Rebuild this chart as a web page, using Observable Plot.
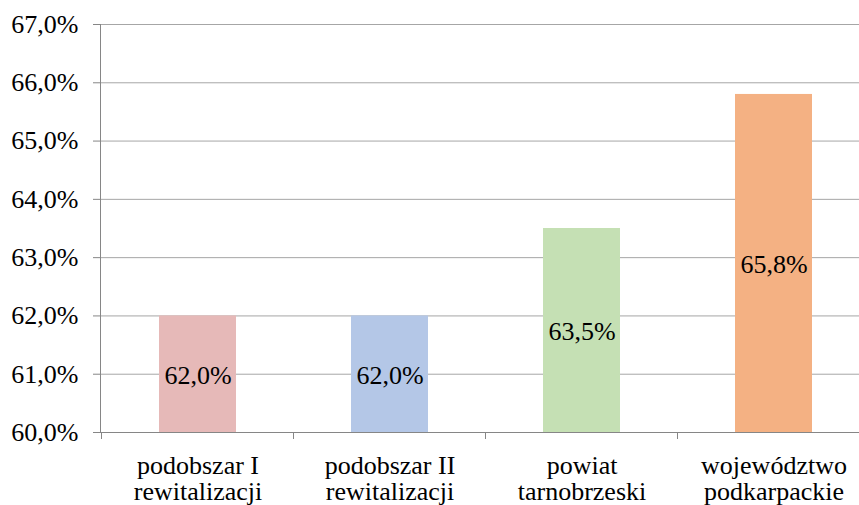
<!DOCTYPE html>
<html>
<head>
<meta charset="utf-8">
<script src="https://cdn.jsdelivr.net/npm/d3@7"></script>
<script src="https://cdn.jsdelivr.net/npm/@observablehq/plot@0.6"></script>
<style>
  html, body { margin: 0; padding: 0; background: #fff; }
  #chart svg { display: block; overflow: hidden; font-family: "Liberation Serif", "Tinos", "Times New Roman", "DejaVu Serif", serif; }
  #chart svg text { font-family: "Liberation Serif", "Tinos", "Times New Roman", "DejaVu Serif", serif; }
</style>
</head>
<body>
<div id="chart"></div>
<script>
const categories = ["podobszar I\nrewitalizacji", "podobszar II\nrewitalizacji", "powiat\ntarnobrzeski", "województwo\npodkarpackie"];
const values = [62.0, 62.0, 63.5, 65.8];
const colors = ["#e6b9b8", "#b4c7e7", "#c5e0b4", "#f4b183"];
const yTicks = [60, 61, 62, 63, 64, 65, 66, 67];

const data = categories.map((c, i) => ({category: c, value: values[i], color: colors[i]}));
const fmt = d => d.toFixed(1).replace(".", ",") + "%";
const font = "Liberation Serif, DejaVu Serif, serif";

const W = 859, H = 505;
const mLeft = 100, mTop = 24, yBottom = 432;

const chart = Plot.plot({
  width: W,
  height: H,
  marginLeft: mLeft,
  marginRight: 0,
  marginTop: mTop,
  marginBottom: H - yBottom,
  style: {background: "#fff", color: "#000"},
  x: {domain: categories, range: [mLeft, 871], paddingInner: 0.6, paddingOuter: 0.3, axis: null, label: null},
  y: {domain: [60, 67], range: [yBottom, mTop], axis: null, label: null},
  marks: [
    Plot.ruleY(yTicks, {stroke: "#a6a6a6", strokeWidth: 1}),
    Plot.barY(data, {x: "category", y1: () => 60, y2: "value", fill: "color"}),
    Plot.text(data, {x: "category", y: d => (60 + d.value) / 2, text: d => fmt(d.value), fontSize: 26, fontFamily: font, fill: "#000", dy: 1}),
    Plot.axisY(yTicks, {tickFormat: fmt, tickSize: 7, tickPadding: 15, fontSize: 26, fontFamily: font, stroke: "#868686", fill: "#000", anchor: "left", label: null}),
    Plot.axisX(categories, {tickSize: 0, tickPadding: 23, fontSize: 26, fontFamily: font, lineHeight: 1.0, fill: "#000", anchor: "bottom", label: null}),
    Plot.frame({anchor: "left", stroke: "#868686"}),
    Plot.ruleY([60], {stroke: "#868686"})
  ]
});

// category boundary ticks below the axis, from the band scale
const xs = chart.scale("x");
const step = xs.step, bw = xs.bandwidth;
const gap = (step - bw) / 2;
const bounds = categories.map(c => xs.apply(c) - gap);
bounds.push(xs.apply(categories[categories.length - 1]) + bw + gap);
const ys = chart.scale("y");
const y0 = ys.apply(60);
d3.select(chart).append("g")
  .attr("stroke", "#868686")
  .selectAll("line").data(bounds).join("line")
  .attr("x1", d => d).attr("x2", d => d)
  .attr("y1", y0).attr("y2", y0 + 7);

document.getElementById("chart").appendChild(chart);
</script>
</body>
</html>
